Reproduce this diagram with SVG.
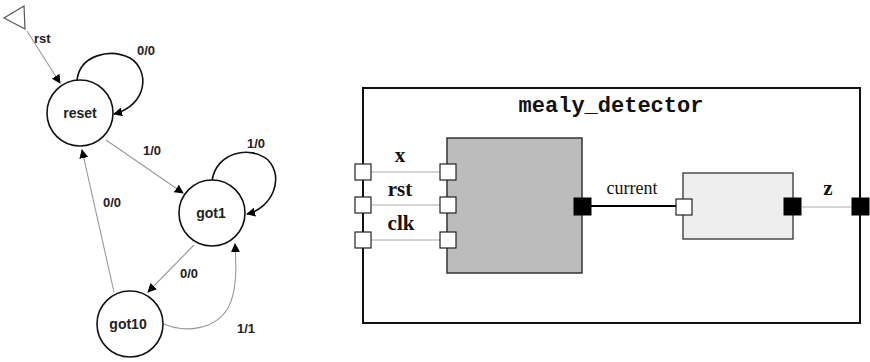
<svg xmlns="http://www.w3.org/2000/svg" width="870" height="362" viewBox="0 0 870 362">
<style>
.state{fill:#fff;stroke:#111;stroke-width:1.6}
.slabel{font-family:"Liberation Sans",Arial,sans-serif;font-weight:bold;font-size:14px;fill:#222}
.tlabel{font-family:"Liberation Sans",Arial,sans-serif;font-weight:bold;font-size:13px;fill:#222}
.grey{fill:none;stroke:#999;stroke-width:1.1}
.loop{fill:none;stroke:#111;stroke-width:1.6}
.pin{fill:#fff;stroke:#222;stroke-width:1.2}
.pout{fill:#000;stroke:#000;stroke-width:1}
.wire{stroke:#aaa;stroke-width:1}
.plabel{font-family:"Liberation Serif","Times New Roman",serif;font-weight:bold;font-size:21px;fill:#111}
</style>
<defs>
<marker id="arr" viewBox="0 0 10 10" refX="9" refY="5" markerWidth="9" markerHeight="9" markerUnits="userSpaceOnUse" orient="auto">
<path d="M0,0 L10,5 L0,10 z" fill="#000"/>
</marker>
</defs>
<rect width="870" height="362" fill="#fff"/>
<g id="connectors">
<polygon points="4,18 24,6 25,29" fill="#fff" stroke="#555" stroke-width="1.2"/>
<line class="grey" x1="27" y1="31" x2="60" y2="83" marker-end="url(#arr)"/>
<path class="loop" d="M77,80 C80,55 110,48 130,58 C150,70 148,105 114,114" marker-end="url(#arr)"/>
<line class="grey" x1="106" y1="140" x2="183" y2="193" marker-end="url(#arr)"/>
<path class="loop" d="M212,181 C216,152 250,145 268,160 C285,178 272,208 247,214" marker-end="url(#arr)"/>
<line class="grey" x1="194" y1="245" x2="148" y2="292" marker-end="url(#arr)"/>
<path class="grey" d="M164,324 C185,333 215,330 228,308 C238,290 236,262 235,244" marker-end="url(#arr)"/>
<line class="grey" x1="114" y1="292" x2="82" y2="150" marker-end="url(#arr)"/>
<text class="tlabel" x="34" y="43">rst</text>
<text class="tlabel" x="137" y="55">0/0</text>
<text class="tlabel" x="143" y="155">1/0</text>
<text class="tlabel" x="247" y="148">1/0</text>
<text class="tlabel" x="180" y="278">0/0</text>
<text class="tlabel" x="237" y="333">1/1</text>
<text class="tlabel" x="103" y="207">0/0</text>
</g>
<g id="reset">
<circle class="state" cx="80" cy="113" r="33"/>
<text class="slabel" x="80" y="118" text-anchor="middle">reset</text>
</g>
<g id="got1">
<circle class="state" cx="212" cy="213" r="33"/>
<text class="slabel" x="211" y="218" text-anchor="middle">got1</text>
</g>
<g id="got10">
<circle class="state" cx="130" cy="324" r="33"/>
<text class="slabel" x="128" y="329" text-anchor="middle">got10</text>
</g>
<g id="mealy_detector">
<rect x="363" y="88" width="497" height="235" fill="#fff" stroke="#111" stroke-width="2"/>
<text x="611" y="112" text-anchor="middle" font-family="'Liberation Mono','Courier New',monospace" font-weight="bold" font-size="22" fill="#111">mealy_detector</text>
</g>
<g id="wires">
<line class="wire" x1="371" y1="172" x2="440" y2="172"/>
<line class="wire" x1="371" y1="205" x2="440" y2="205"/>
<line class="wire" x1="371" y1="240" x2="440" y2="240"/>
<line x1="591" y1="206" x2="676" y2="206" stroke="#000" stroke-width="2"/>
<line class="wire" x1="802" y1="207" x2="852" y2="207"/>
<text class="plabel" x="400" y="162" text-anchor="middle">x</text>
<text class="plabel" x="400" y="196" text-anchor="middle">rst</text>
<text class="plabel" x="401" y="230" text-anchor="middle">clk</text>
<text x="632" y="194" text-anchor="middle" font-family="'Liberation Serif','Times New Roman',serif" font-size="18" fill="#111">current</text>
<text class="plabel" x="828" y="195" text-anchor="middle">z</text>
</g>
<g id="ports_outer">
<rect class="pin" x="355" y="164" width="16" height="16"/>
<rect class="pin" x="355" y="197" width="16" height="16"/>
<rect class="pin" x="355" y="232" width="16" height="16"/>
<rect class="pout" x="852" y="198" width="17" height="17"/>
</g>
<g id="block1">
<rect x="447" y="138" width="135" height="135" fill="#bcbcbc" stroke="#333" stroke-width="1.5"/>
<rect class="pin" x="440" y="164" width="16" height="16"/>
<rect class="pin" x="440" y="197" width="16" height="16"/>
<rect class="pin" x="440" y="232" width="16" height="16"/>
<rect class="pout" x="574" y="198" width="17" height="17"/>
</g>
<g id="block2">
<rect x="683" y="173" width="110" height="66" fill="#eeeeee" stroke="#333" stroke-width="1.3"/>
<rect class="pin" x="676" y="199" width="16" height="16"/>
<rect class="pout" x="784" y="198" width="17" height="17"/>
</g>
</svg>
